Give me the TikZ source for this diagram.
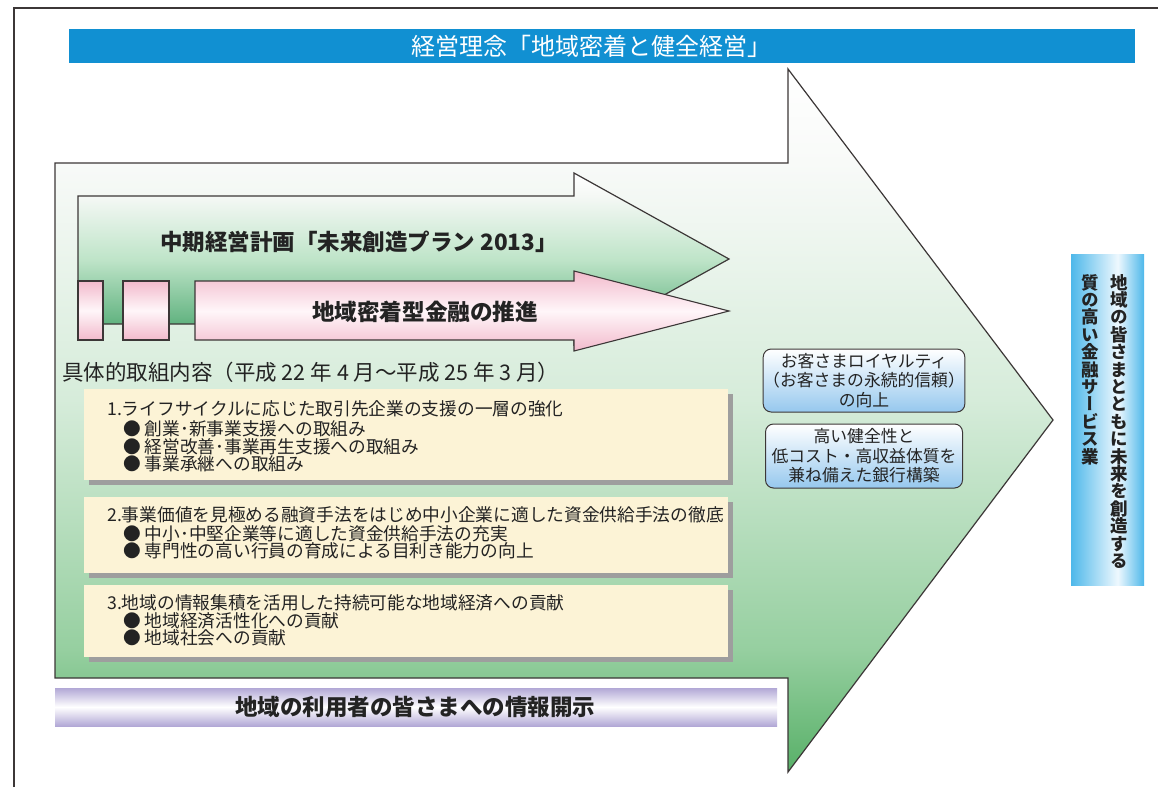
\documentclass[tikz,border=0pt]{standalone}
\usepackage{fontspec}
\setmainfont{Noto Sans CJK JP}
\definecolor{bannerblue}{RGB}{17,144,210}
\definecolor{bgA}{RGB}{88,176,104}
\definecolor{bgB}{RGB}{150,207,160}
\definecolor{bgC}{RGB}{214,236,218}
\definecolor{bgD}{RGB}{248,250,248}
\definecolor{gA}{RGB}{80,168,112}
\definecolor{gB}{RGB}{100,180,130}
\definecolor{gC}{RGB}{190,228,200}
\definecolor{gD}{RGB}{245,248,245}
\definecolor{pinkc}{RGB}{242,186,204}
\definecolor{pinkm}{RGB}{255,246,249}
\definecolor{cream}{RGB}{252,243,214}
\definecolor{shadowgray}{RGB}{158,158,158}
\definecolor{lbA}{RGB}{150,200,238}
\definecolor{lav}{RGB}{178,168,214}
\definecolor{barblue}{RGB}{78,184,234}
\definecolor{barlight}{RGB}{238,248,254}
\definecolor{linegray}{RGB}{60,55,55}
\definecolor{textc}{RGB}{35,35,35}
\pgfdeclareverticalshading{bigarrowshade}{100bp}{color(0bp)=(bgA); color(25bp)=(bgA); color(33.7bp)=(bgB); color(51.5bp)=(bgC); color(68.3bp)=(bgD); color(75bp)=(white); color(100bp)=(white)}
\pgfdeclareverticalshading{greenarrowshade}{100bp}{color(0bp)=(gA); color(25bp)=(gA); color(31.7bp)=(gB); color(49.7bp)=(gC); color(68.3bp)=(gD); color(75bp)=(white); color(100bp)=(white)}
\pgfdeclarehorizontalshading{barshade}{100bp}{color(0bp)=(barblue); color(25bp)=(barblue); color(57bp)=(barlight); color(75bp)=(barblue); color(100bp)=(barblue)}
\begin{document}
\begin{tikzpicture}[x=1pt,y=-1pt,
  frameline/.style={draw=linegray, line width=1.4pt},
  arrowline/.style={draw=linegray, line width=1.2pt, line join=miter},
  pinkshape/.style={draw=linegray, line width=1.1pt, top color=pinkc, bottom color=pinkc, middle color=pinkm},
  creambox/.style={fill=cream},
  shadowbox/.style={fill=shadowgray},
  bluebox/.style={draw=linegray, line width=1pt, rounded corners=8pt, top color=white, bottom color=lbA, align=center, inner sep=0pt, text=textc, font=\fontsize{16.8}{19.5}\selectfont},
  txt/.style={inner sep=0pt, text=textc},
  boxtxt/.style={txt, anchor=west, font=\fontsize{17.7}{18}\selectfont},
  vtxt/.style={txt, anchor=north, align=center, font=\fontsize{17.5}{17.4}\selectfont\bfseries\addfontfeature{RawFeature=+vert}}
]
\useasboundingbox (0,0) rectangle (1158,787);
\fill[white] (0,0) rectangle (1158,787);
% outer frame
\draw[frameline] (14,787) -- (14,8) -- (1158,8);
% top banner
\fill[bannerblue] (69,29) rectangle (1135,63);
\node[txt, text=white, font=\fontsize{24}{24}\selectfont] (philosophy) at (591,46) {経営理念「地域密着と健全経営」};
% big arrow
\draw[arrowline, shading=bigarrowshade] (55,163) -- (788,163) -- (788,69) -- (1053,420) -- (788,772) -- (788,678) -- (55,678) -- cycle;
% green arrow
\draw[arrowline, shading=greenarrowshade] (78,196) -- (574,196) -- (574,173) -- (729,259) -- (574,345) -- (574,324) -- (78,324) -- cycle;
\node[txt, font=\fontsize{22.5}{22.5}\selectfont\bfseries] (plan) at (359,242) {中期経営計画「未来創造プラン 2013」};
% pink pieces
\draw[pinkshape] (78,281) rectangle (103,340);
\draw[pinkshape] (123,281) rectangle (169,340);
\draw[pinkshape] (195,281) -- (574,281) -- (574,271) -- (729,311) -- (574,351) -- (574,340) -- (195,340) -- cycle;
\node[txt, font=\fontsize{22.6}{22.6}\selectfont\bfseries] (local) at (425,312) {地域密着型金融の推進};
% title
\node[txt, anchor=west, font=\fontsize{21.5}{21.5}\selectfont] (content) at (62,372) {具体的取組内容（平成 22 年 4 月～平成 25 年 3 月）};
% box 1
\fill[shadowbox] (89,394) rectangle (733,485);
\fill[creambox] (84,389) rectangle (728,480);
\node[boxtxt] (b1) at (107,409) {1.ライフサイクルに応じた取引先企業の支援の一層の強化};
\node[boxtxt] (b1a) at (123,429) {● 創業･新事業支援への取組み};
\node[boxtxt] (b1b) at (123,447) {● 経営改善･事業再生支援への取組み};
\node[boxtxt] (b1c) at (123,464) {● 事業承継への取組み};
% box 2
\fill[shadowbox] (89,502) rectangle (733,578);
\fill[creambox] (84,497) rectangle (728,573);
\node[boxtxt] (b2) at (107,515) {2.事業価値を見極める融資手法をはじめ中小企業に適した資金供給手法の徹底};
\node[boxtxt] (b2a) at (123,534) {● 中小･中堅企業等に適した資金供給手法の充実};
\node[boxtxt] (b2b) at (123,551) {● 専門性の高い行員の育成による目利き能力の向上};
% box 3
\fill[shadowbox] (89,590) rectangle (733,662);
\fill[creambox] (84,585) rectangle (728,657);
\node[boxtxt] (b3) at (107,603) {3.地域の情報集積を活用した持続可能な地域経済への貢献};
\node[boxtxt] (b3a) at (123,621) {● 地域経済活性化への貢献};
\node[boxtxt] (b3b) at (123,638) {● 地域社会への貢献};
% blue boxes
\node[bluebox, minimum width=197pt, minimum height=63pt] (loyalty) at (864,380.5) {お客さまロイヤルティ\\（お客さまの永続的信頼）\\の向上};
\node[bluebox, minimum width=197pt, minimum height=64pt] (sound) at (864,456) {高い健全性と\\低コスト・高収益体質を\\兼ね備えた銀行構築};
% vertical bar
\shade[shading=barshade] (1071,254) rectangle (1144,585);
\node[vtxt] (vision1) at (1119,274) {地\\域\\の\\皆\\さ\\ま\\と\\と\\も\\に\\未\\来\\を\\創\\造\\す\\る};
\node[vtxt] (vision2) at (1090,274) {質\\の\\高\\い\\金\\融\\サ\\ー\\ビ\\ス\\業};
% bottom banner
\shade[top color=lav, bottom color=lav, middle color=white] (55,688) rectangle (777,726);
\node[txt, font=\fontsize{22.5}{22.5}\selectfont\bfseries] (disclosure) at (415,707) {地域の利用者の皆さまへの情報開示};
\end{tikzpicture}
\end{document}
